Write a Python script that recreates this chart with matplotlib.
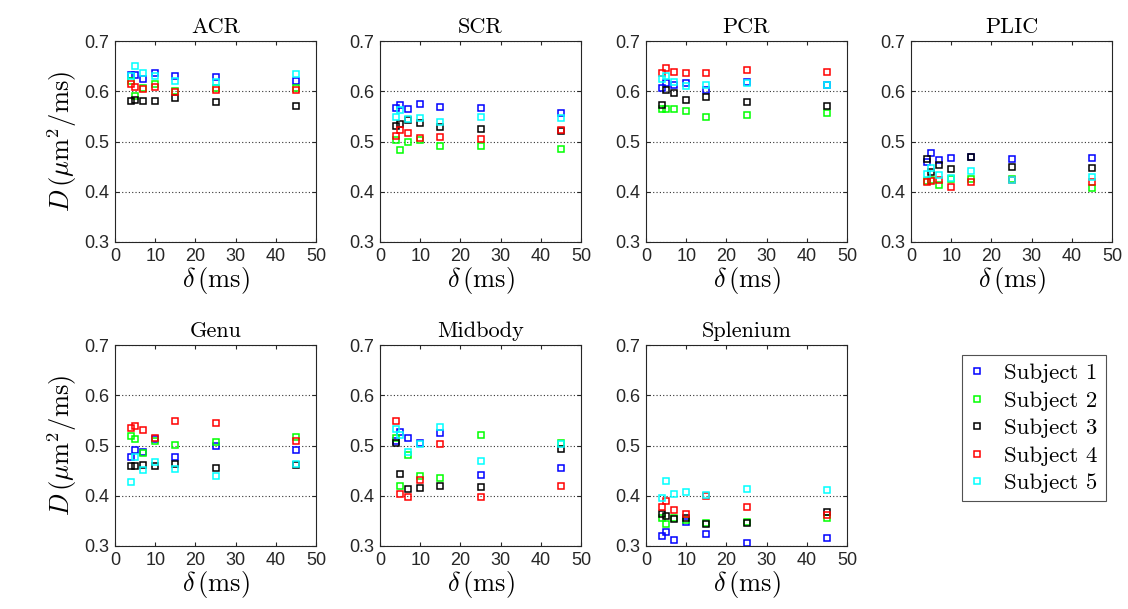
import numpy as np
import matplotlib
matplotlib.use('Agg')
import matplotlib.pyplot as plt

plt.rcParams['mathtext.fontset'] = 'cm'
plt.rcParams['axes.unicode_minus'] = False

delta = [4, 5, 7, 10, 15, 25, 45]
subjects = ['Subject 1', 'Subject 2', 'Subject 3', 'Subject 4', 'Subject 5']
colors = ['#0000ff', '#00ff00', '#000000', '#ff0000', '#00ffff']
regions = ['ACR', 'SCR', 'PCR', 'PLIC', 'Genu', 'Midbody', 'Splenium']

# one row per subject, columns follow delta
acr = [[0.633, 0.632, 0.625, 0.636, 0.631, 0.629, 0.621],
       [0.620, 0.590, 0.606, 0.614, 0.600, 0.606, 0.606],
       [0.580, 0.583, 0.581, 0.580, 0.586, 0.578, 0.571],
       [0.615, 0.608, 0.604, 0.609, 0.598, 0.602, 0.602],
       [0.630, 0.650, 0.637, 0.631, 0.621, 0.618, 0.635]]
scr = [[0.567, 0.573, 0.565, 0.574, 0.568, 0.566, 0.557],
       [0.503, 0.483, 0.500, 0.503, 0.492, 0.491, 0.485],
       [0.530, 0.535, 0.543, 0.537, 0.528, 0.525, 0.521],
       [0.511, 0.523, 0.516, 0.507, 0.509, 0.505, 0.523],
       [0.548, 0.563, 0.544, 0.547, 0.539, 0.548, 0.547]]
pcr = [[0.606, 0.616, 0.613, 0.616, 0.603, 0.619, 0.613],
       [0.565, 0.564, 0.564, 0.560, 0.548, 0.553, 0.557],
       [0.572, 0.603, 0.596, 0.583, 0.589, 0.579, 0.571],
       [0.636, 0.647, 0.638, 0.637, 0.637, 0.642, 0.639],
       [0.624, 0.631, 0.619, 0.611, 0.613, 0.616, 0.613]]
plic = [[0.460, 0.477, 0.464, 0.468, 0.469, 0.465, 0.467],
        [0.422, 0.424, 0.414, 0.425, 0.425, 0.425, 0.408],
        [0.465, 0.440, 0.453, 0.445, 0.469, 0.449, 0.447],
        [0.419, 0.421, 0.423, 0.409, 0.419, 0.424, 0.420],
        [0.435, 0.448, 0.434, 0.427, 0.441, 0.423, 0.429]]
genu = [[0.478, 0.491, 0.487, 0.512, 0.477, 0.499, 0.491],
        [0.519, 0.512, 0.485, 0.509, 0.501, 0.506, 0.517],
        [0.459, 0.459, 0.461, 0.459, 0.463, 0.456, 0.462],
        [0.535, 0.539, 0.531, 0.514, 0.548, 0.545, 0.509],
        [0.427, 0.478, 0.452, 0.467, 0.453, 0.440, 0.463]]
midbody = [[0.509, 0.527, 0.514, 0.504, 0.525, 0.442, 0.456],
           [0.514, 0.419, 0.482, 0.440, 0.436, 0.520, 0.504],
           [0.505, 0.444, 0.413, 0.416, 0.419, 0.418, 0.494],
           [0.548, 0.404, 0.397, 0.431, 0.502, 0.398, 0.419],
           [0.533, 0.521, 0.487, 0.503, 0.537, 0.470, 0.503]]
splenium = [[0.320, 0.327, 0.312, 0.348, 0.323, 0.305, 0.316],
            [0.356, 0.344, 0.356, 0.352, 0.345, 0.347, 0.356],
            [0.363, 0.359, 0.354, 0.356, 0.344, 0.345, 0.367],
            [0.377, 0.390, 0.371, 0.364, 0.399, 0.377, 0.361],
            [0.396, 0.430, 0.403, 0.407, 0.402, 0.414, 0.411]]
data = [acr, scr, pcr, plic, genu, midbody, splenium]

fig = plt.figure(figsize=(11.28, 6.09), dpi=100)
W, H = 1128.0, 609.0
lefts = [115, 380, 646, 911]
tops = [41, 345]
aw, ah = 201, 201

tickfont = {'family': 'Liberation Sans', 'size': 13}
axcol = '#262626'

handles = []
for k, name in enumerate(regions):
    r, c = divmod(k, 4)
    ax = fig.add_axes([lefts[c] / W, 1 - (tops[r] + ah) / H, aw / W, ah / H])
    vals = np.array(data[k])
    for s in range(5):
        h, = ax.plot(delta, vals[s], 's', mfc='none', mec=colors[s], ms=5, mew=1.1,
                     label=subjects[s])
        if k == 0:
            handles.append(h)
    ax.set_xlim(0, 50)
    ax.set_ylim(0.3, 0.7)
    ax.set_xticks([0, 10, 20, 30, 40, 50])
    ax.set_yticks([0.3, 0.4, 0.5, 0.6, 0.7])
    ax.set_yticklabels(['0.3', '0.4', '0.5', '0.6', '0.7'], fontdict=tickfont)
    ax.set_xticklabels(['0', '10', '20', '30', '40', '50'], fontdict=tickfont)
    ax.grid(axis='y', linestyle=(0, (1, 2)), color='#333333', linewidth=0.8)
    ax.tick_params(direction='in', top=True, right=True, length=3, color=axcol,
                   labelcolor=axcol, pad=4)
    for sp in ax.spines.values():
        sp.set_color(axcol)
        sp.set_linewidth(0.8)
    ax.set_title(name, family='cmr10', fontsize=16, pad=6)
    ax.set_xlabel(r'$\delta\,(\mathrm{ms})$', fontsize=19, labelpad=0)
    if c == 0:
        ax.set_ylabel(r'$D\,(\mu\mathrm{m}^2/\mathrm{ms})$', fontsize=19, labelpad=4)

leg = fig.legend(handles=handles, loc='upper left',
                 bbox_to_anchor=(962 / W, 1 - 355 / H), frameon=True, fancybox=False,
                 prop={'family': 'cmr10', 'size': 16.5}, handlelength=0.6, handletextpad=0.9,
                 borderpad=0.35, labelspacing=0.33, markerscale=0.75, borderaxespad=0)
leg.get_frame().set_edgecolor(axcol)
leg.get_frame().set_linewidth(0.8)

fig.savefig('out.png', dpi=100)
